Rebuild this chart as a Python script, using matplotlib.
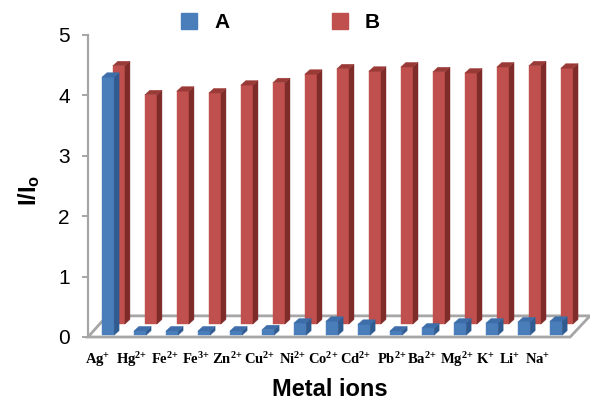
import matplotlib
matplotlib.use('Agg')
import matplotlib.pyplot as plt
from matplotlib.patches import Polygon
from matplotlib.lines import Line2D

plt.rcParams['font.family'] = ['Liberation Sans', 'DejaVu Sans']

# data (values as read against the axis)
ions = ['Ag^{{+}}', 'Hg^{2{+}}', 'Fe^{2{+}}', 'Fe^{3{+}}', 'Zn^{2{+}}', 'Cu^{2{+}}', 'Ni^{2{+}}',
        'Co^{2{+}}', 'Cd^{2{+}}', 'Pb^{2{+}}', 'Ba^{2{+}}', 'Mg^{2{+}}', 'K^{{+}}', 'Li^{{+}}',
        'Na^{{+}}']
series_a = [4.30, 0.10, 0.10, 0.10, 0.10, 0.12, 0.23, 0.26, 0.21, 0.10, 0.15, 0.23, 0.23, 0.25, 0.26]
series_b = [4.49, 4.01, 4.07, 4.04, 4.17, 4.21, 4.35, 4.44, 4.40, 4.47, 4.39, 4.37, 4.47, 4.49, 4.45]
yticks = [0, 1, 2, 3, 4, 5]

# layout of the fake 3D look
label_pos = [-0.31, 0.75, 1.78, 2.75, 3.72, 4.75, 5.78, 6.72, 7.75, 8.88, 9.81, 10.9, 11.8, 12.56, 13.41]
half_w = 0.19
dx, dy = 0.156, 0.075          # depth of a bar's top/side
b_shift, b_base = 0.34, 0.215  # red row sits behind the blue row
a_base = 0.03

blue = dict(front='#4A7EBB', side='#2F5B91', top='#3D6EA9')
red = dict(front='#C0504D', side='#7E2B29', top='#9A3A37')


def bar3d(ax, xc, base, top, col, z):
    x0, x1 = xc - half_w, xc + half_w
    faces = [
        ([(x0, base), (x1, base), (x1, top), (x0, top)], col['front']),
        ([(x1, base), (x1 + dx, base + dy), (x1 + dx, top + dy), (x1, top)], col['side']),
        ([(x0, top), (x0 + dx, top + dy), (x1 + dx, top + dy), (x1, top)], col['top']),
    ]
    for pts, c in faces:
        ax.add_patch(Polygon(pts, closed=True, fc=c, ec=c, lw=0.3, zorder=z, clip_on=False))


fig = plt.figure(figsize=(5.9, 4.04), dpi=100)
ax = fig.add_axes([88 / 590, 67 / 404, 502 / 590, 302 / 404])
ax.set_xlim(-0.625, 15.06)
ax.set_ylim(0, 5)

# floor
floor = Polygon([(-0.625, 0), (14.44, 0), (15.06, 0.35), (-0.03, 0.35)], closed=True,
                fc='white', ec='#A6A6A6', lw=2, zorder=1, clip_on=False)
ax.add_patch(floor)

for i, v in enumerate(series_b):
    bar3d(ax, i + b_shift, b_base, v, red, 2)
for i, v in enumerate(series_a):
    bar3d(ax, i, a_base, v, blue, 3)

# axes styling
for s in ['top', 'right', 'bottom']:
    ax.spines[s].set_visible(False)
ax.spines['left'].set_color('#A6A6A6')
ax.spines['left'].set_linewidth(1.6)
ax.set_yticks(yticks)
ax.tick_params(axis='y', direction='out', length=4, width=1.4, color='#A6A6A6',
               labelsize=15, pad=9)
ax.set_xticks([])

for x, name in zip(label_pos, ions):
    ax.text(x, -0.45, r'$\mathregular{' + name + '}$', ha='center', va='baseline',
            fontsize=10.5, family='Liberation Serif', weight='bold', clip_on=False)

fig.text(330 / 590, 1 - 389 / 404, 'Metal ions', ha='center', va='center',
         fontsize=17, weight='bold')
fig.text(29 / 590, 1 - 190 / 404, r'I/I$\mathregular{_o}$', ha='center', va='center',
         rotation=90, fontsize=17, weight='bold')

handles = [Line2D([], [], marker='s', ls='', color=blue['front'], markersize=11),
           Line2D([], [], marker='s', ls='', color=red['front'], markersize=11)]
fig.legend(handles, ['A', 'B'], loc='center left', bbox_to_anchor=(179 / 590, 1 - 23 / 404),
           ncol=2, frameon=False, prop=dict(size=15, weight='bold'), handlelength=1,
           handletextpad=0.7, columnspacing=4.8, borderpad=0, borderaxespad=0)

fig.savefig('out.png', dpi=100)
